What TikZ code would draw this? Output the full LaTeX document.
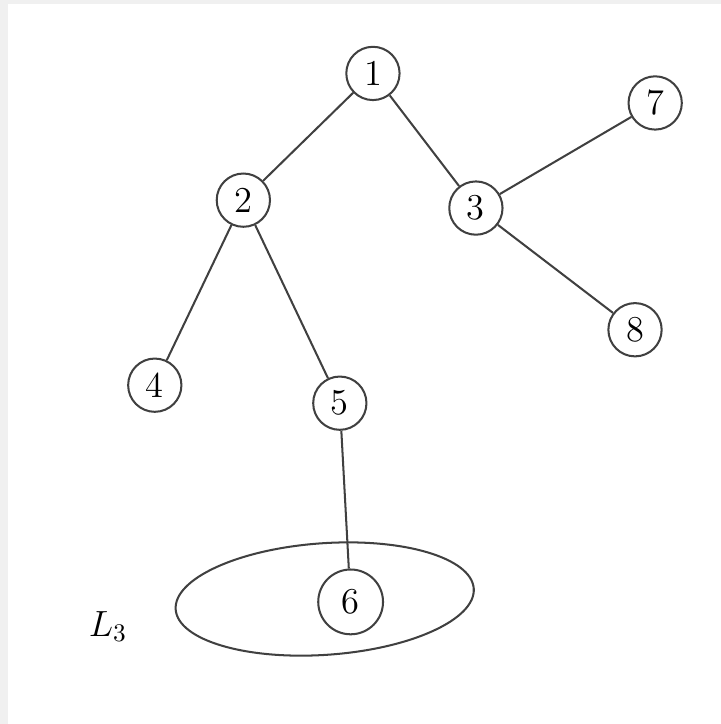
\documentclass[tikz,border=0pt]{standalone}
\usetikzlibrary{shapes.geometric}

\tikzset{
  vertex/.style={draw, circle, thick, draw=black!75, inner sep=1pt, minimum size=0.74cm, font=\Large},
  edge/.style={draw=black!75, thick}
}

\begin{document}
\begin{tikzpicture}[x=1cm,y=-1cm]
    % paper
    \fill[black!6] (0,0) rectangle (10.014,10.056);
    \fill[white] (0.11,0.05) rectangle (10.014,10.056);
    \useasboundingbox (0,0) rectangle (10.014,10.056);

    % vertices
    \node[vertex] (n1) at (5.18,1.02) {1};
    \node[vertex] (n2) at (3.38,2.78) {2};
    \node[vertex] (n3) at (6.61,2.89) {3};
    \node[vertex] (n7) at (9.10,1.43) {7};
    \node[vertex] (n8) at (8.82,4.58) {8};
    \node[vertex] (n4) at (2.15,5.35) {4};
    \node[vertex] (n5) at (4.72,5.60) {5};
    \node[vertex, minimum size=0.9cm] (n6) at (4.87,8.36) {6};

    % edges
    \draw[edge] (n1) -- (n2);
    \draw[edge] (n1) -- (n3);
    \draw[edge] (n3) -- (n7);
    \draw[edge] (n3) -- (n8);
    \draw[edge] (n2) -- (n4);
    \draw[edge] (n2) -- (n5);
    \draw[edge] (n5) -- (n6);

    % level 3
    \node[draw=black!75, thick, ellipse, rotate=4, minimum width=4.15cm, minimum height=1.55cm] (lvl) at (4.51,8.32) {};
    \node[font=\Large] (lab) at (1.5,8.7) {$L_3$};
\end{tikzpicture}
\end{document}
